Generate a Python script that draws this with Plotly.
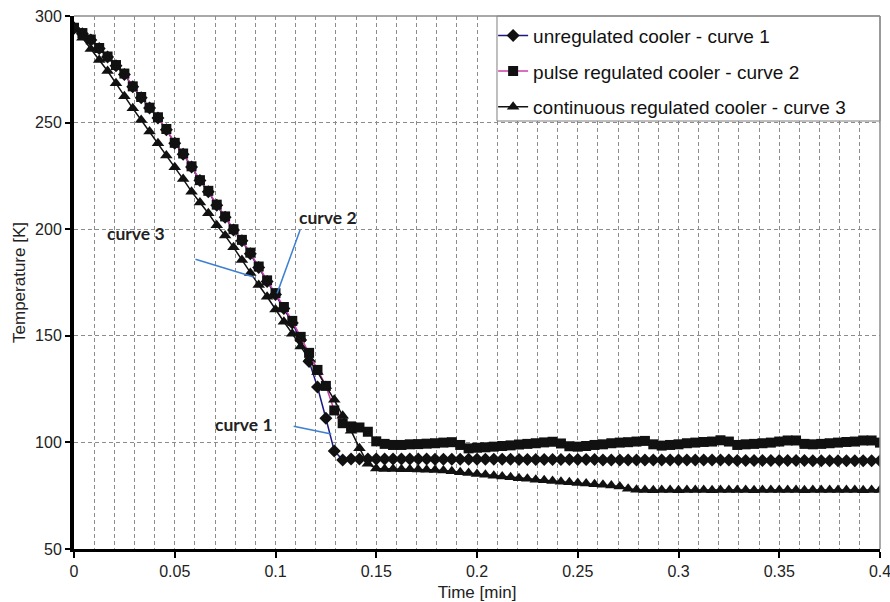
import plotly.graph_objects as go

# sampling grid: one sample every 0.25 s, expressed in minutes
time_step_s = 0.25
n_samples = 97
time_min = [i * time_step_s / 60 for i in range(n_samples)]

series_names = [
    "unregulated cooler - curve 1",
    "pulse regulated cooler - curve 2",
    "continuous regulated cooler - curve 3",
]

curve1 = [294.3, 291.7, 288.7, 284.8, 280.8, 276.7, 272.6, 266.8, 261.7, 256.8,
          252.2, 246.7, 240.3, 235.2, 229.2, 222.8, 217.6, 211.2, 205.6, 199.6,
          194.6, 188.5, 182.0, 175.5, 169.4, 162.8, 156.0, 148.0, 138.0, 126.0,
          111.3, 96.0, 91.8,
          92.2, 92.2, 92.2, 92.2, 92.2, 92.2, 92.2, 92.2, 92.2, 92.2,
          92.1, 92.1, 92.1, 92.1, 92.1, 92.1, 92.1, 92.1, 92.1, 92.1,
          92.0, 92.0, 92.0, 92.0, 92.0, 92.0, 92.0, 92.0, 92.0, 92.0,
          91.8, 91.8, 91.8, 91.8, 91.8, 91.8, 91.8, 91.8,
          91.7, 91.7, 91.7, 91.7, 91.7, 91.7, 91.7, 91.7,
          91.5, 91.5, 91.5, 91.5, 91.5, 91.5, 91.5, 91.5, 91.5,
          91.4, 91.4, 91.4, 91.4, 91.4, 91.4, 91.4, 91.4, 91.4]

curve2 = [294.5, 292.0, 289.0, 285.0, 281.0, 277.0, 273.0, 267.0, 262.0, 257.0,
          252.5, 247.0, 240.5, 235.5, 229.5, 223.0, 218.0, 211.5, 206.0, 200.0,
          195.0, 189.0, 182.5, 176.0, 170.0, 163.5, 157.0, 149.5, 142.0, 134.0,
          126.5,
          115.0, 109.0, 107.5, 107.0, 105.0, 100.5, 99.3, 98.8, 98.8, 99.1,
          99.2, 99.4, 99.6, 99.9, 100.1, 98.8, 97.2, 97.5, 97.7, 98.0,
          98.3, 98.6, 99.0, 99.3, 99.6, 100.0, 100.3, 99.5, 98.2, 98.0,
          98.3, 98.8, 99.1, 99.6, 99.9, 100.1, 100.4, 100.7, 99.1, 98.5,
          98.8, 99.1, 99.6, 99.9, 100.2, 100.4, 101.0, 100.4, 98.8, 99.1,
          99.3, 99.6, 99.9, 100.4, 100.9, 100.9, 99.3, 99.1, 99.3, 99.6,
          99.9, 100.2, 100.4, 100.9, 100.9, 99.9]

curve3 = [295.0, 289.8, 284.5, 279.4, 274.2, 268.4, 262.4, 256.7, 251.2, 245.8,
          240.3, 234.6, 229.0, 223.5, 217.6, 212.5, 207.5, 201.8, 197.0, 191.5,
          185.5, 179.5, 173.8, 168.3, 162.3, 156.6, 151.0, 145.0, 139.4, 133.0,
          126.5, 120.0, 112.5, 105.5, 97.3, 90.0,
          87.8, 87.5, 87.5, 87.4, 87.4, 87.3, 87.2, 87.0, 86.8, 86.5,
          86.0, 85.6, 85.2, 84.8, 84.4, 84.0, 83.6, 83.2, 82.9, 82.5,
          82.2, 81.9, 81.6, 81.3, 81.0, 80.7, 80.4, 80.1, 79.8, 79.3,
          78.3, 77.8,
          77.7, 77.6, 77.7, 77.7, 77.6, 77.7, 77.7, 77.7, 77.6, 77.7,
          77.7, 77.7, 77.7, 77.6, 77.7, 77.7, 77.7, 77.7, 77.7, 77.6,
          77.7, 77.7, 77.7, 77.7, 77.7, 77.7, 77.6, 77.7, 77.7]

for c in (curve1, curve2, curve3):
    assert len(c) == n_samples, len(c)

x_ticks = [0, 0.05, 0.1, 0.15, 0.2, 0.25, 0.3, 0.35, 0.4]
x_tick_labels = ["0", "0.05", "0.1", "0.15", "0.2", "0.25", "0.3", "0.35", "0.4"]
y_ticks = [50, 100, 150, 200, 250, 300]

# annotation callouts: (label, text x, text y, line start x, y, line end x, y)
callouts = [
    ("curve 1", 0.0842, 108.5, 0.1090, 107.6, 0.1277, 103.9),
    ("curve 2", 0.1262, 205.5, 0.1122, 199.6, 0.1008, 169.9),
    ("curve 3", 0.0310, 198.0, 0.0603, 185.9, 0.0892, 177.6),
]

FONT = "Liberation Sans, Arial, sans-serif"
GRID = "#8c8c8c"

fig = go.Figure()
styles = [
    dict(line_color="#1a1a80", symbol="diamond", size=10),
    dict(line_color="#cc3fa6", symbol="square", size=10),
    dict(line_color="#111111", symbol="triangle-up", size=11),
]
for i, (name, vals, st) in enumerate(zip(series_names, [curve1, curve2, curve3], styles)):
    fig.add_trace(go.Scatter(
        x=time_min, y=vals, name=name, mode="lines+markers",
        line=dict(color=st["line_color"], width=1.5),
        marker=dict(symbol=st["symbol"], size=st["size"], color="#111111",
                    line=dict(width=0)),
        legendgroup=f"g{i}",
    ))

shapes = [
    # legend box
    dict(type="rect", xref="paper", yref="paper", x0=0.5248, x1=1.0, y0=0.803, y1=1.0,
         line=dict(color="#7f7f7f", width=1), fillcolor="white", layer="above"),
    # top and right border
    dict(type="line", xref="paper", yref="paper", x0=0, x1=1, y0=1, y1=1,
         line=dict(color="#8c8c8c", width=1.5)),
    dict(type="line", xref="paper", yref="paper", x0=1, x1=1, y0=0, y1=1,
         line=dict(color="#8c8c8c", width=1.5)),
]
annotations = []
for label, tx, ty, x0, y0, x1, y1 in callouts:
    shapes.append(dict(type="line", xref="x", yref="y", x0=x0, y0=y0, x1=x1, y1=y1,
                       line=dict(color="#3d7fd0", width=1.5), layer="above"))
    annotations.append(dict(x=tx, y=ty, xref="x", yref="y", text=f"<b>{label}</b>",
                            showarrow=False,
                            font=dict(family="Lato, Open Sans, sans-serif", size=17.5,
                                      color="#222222")))

fig.update_layout(
    width=890, height=602,
    margin=dict(l=74, r=10, t=16, b=53, autoexpand=False),
    paper_bgcolor="white", plot_bgcolor="white",
    font=dict(family=FONT, color="#222222"),
    showlegend=True,
    legend=dict(x=0.52, y=0.999, xanchor="left", yanchor="top",
                bgcolor="rgba(0,0,0,0)", borderwidth=0,
                font=dict(family=FONT, size=19, color="#111111"),
                traceorder="grouped", tracegroupgap=8, itemwidth=30),
    shapes=shapes,
    annotations=annotations,
    xaxis=dict(
        range=[0, 0.4], tickvals=x_ticks, ticktext=x_tick_labels,
        showline=True, linecolor="black", linewidth=3,
        ticks="outside", ticklen=6, tickwidth=2, tickcolor="black",
        showgrid=True, gridcolor=GRID, griddash="4px,3px", gridwidth=1,
        minor=dict(dtick=0.01, showgrid=True, gridcolor=GRID, griddash="4px,3px",
                   gridwidth=1, ticks=""),
        zeroline=False, automargin=False, ticklabeloverflow="allow",
        tickfont=dict(family=FONT, size=16, color="#222222"),
        title=dict(text="Time [min]", font=dict(family=FONT, size=17, color="#222222")),
    ),
    yaxis=dict(
        range=[50, 300], tickvals=y_ticks,
        showline=True, linecolor="black", linewidth=4,
        ticks="outside", ticklen=5, tickwidth=2, tickcolor="black",
        showgrid=True, gridcolor=GRID, griddash="4px,3px", gridwidth=1,
        zeroline=False, automargin=True, ticklabeloverflow="allow",
        tickfont=dict(family=FONT, size=16, color="#222222"),
        title=dict(text="Temperature [K]", font=dict(family=FONT, size=17, color="#222222"),
                   standoff=6),
    ),
)

fig.write_html("out.html", config={"displayModeBar": False},
               post_script="document.body.style.margin='0';")
